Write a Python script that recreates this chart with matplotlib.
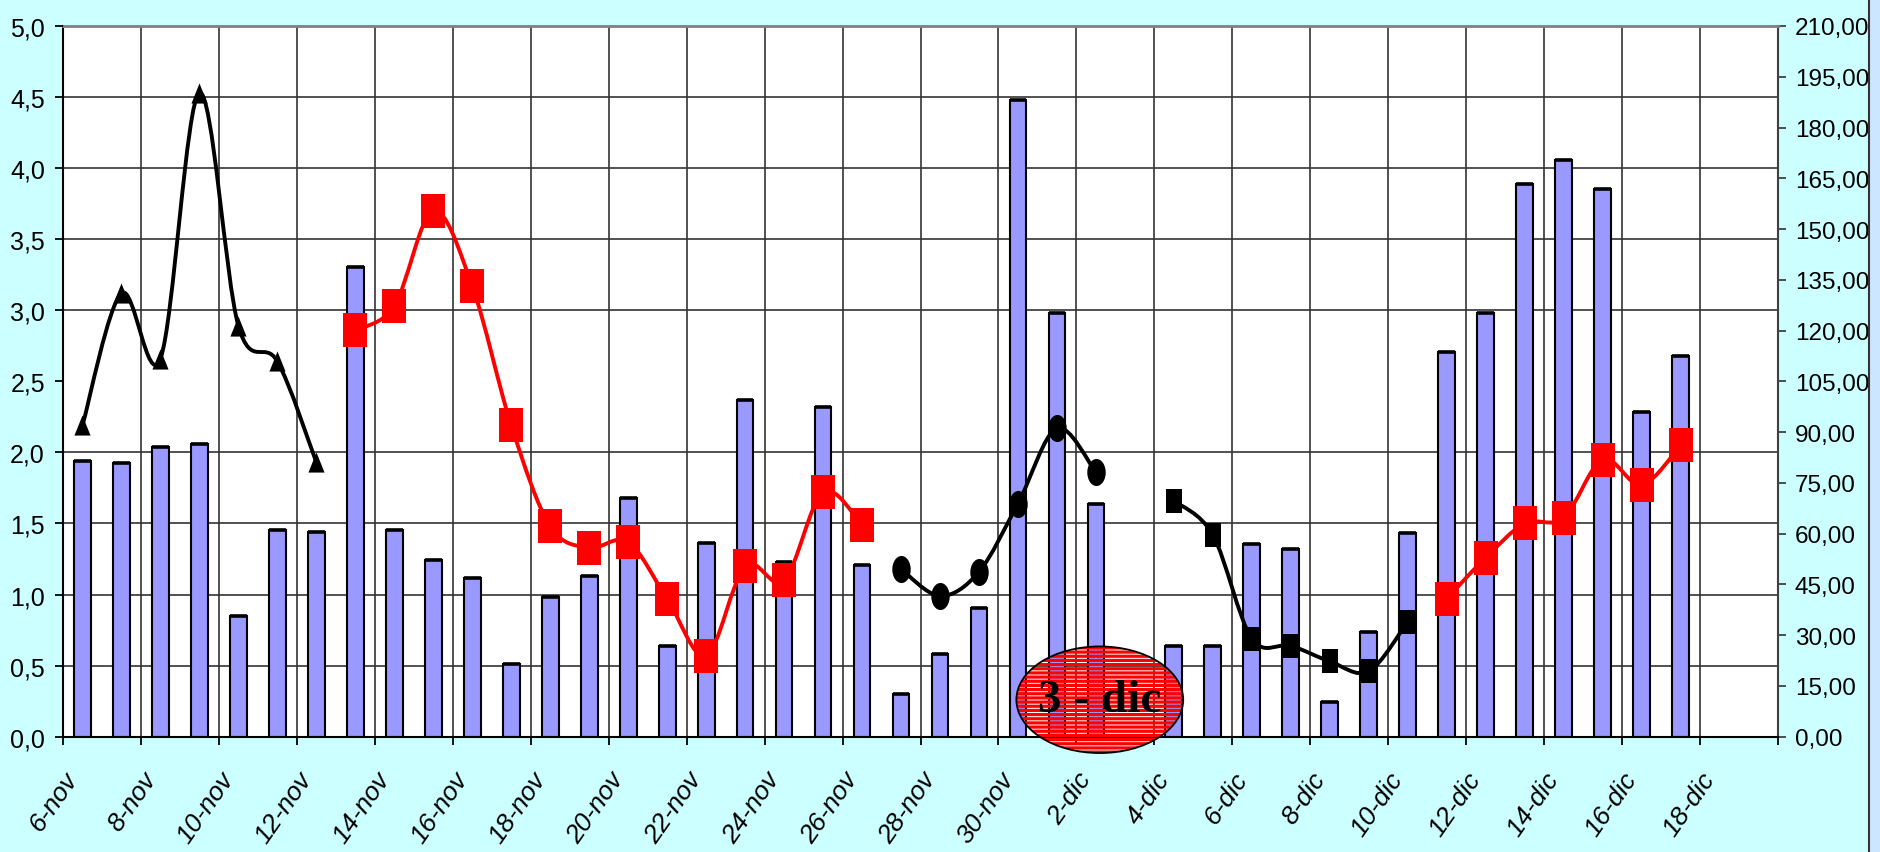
import numpy as np
import matplotlib
matplotlib.use('Agg')
import matplotlib.pyplot as plt
import matplotlib.transforms as mtransforms
from matplotlib.path import Path
from matplotlib.patches import PathPatch, Ellipse, Rectangle
from matplotlib.ticker import FuncFormatter

plt.rcParams['font.family'] = ['Liberation Sans', 'DejaVu Sans']

# day index 0 = 6-nov
tick_labels = ['6-nov', '8-nov', '10-nov', '12-nov', '14-nov', '16-nov', '18-nov',
               '20-nov', '22-nov', '24-nov', '26-nov', '28-nov', '30-nov', '2-dic',
               '4-dic', '6-dic', '8-dic', '10-dic', '12-dic', '14-dic', '16-dic',
               '18-dic', '']

# bars, right axis (one per day, 6-nov .. 17-dic; nothing on 3-dic)
bar_values = [81.6, 81.0, 85.7, 86.5, 35.7, 61.0, 60.4, 138.8, 61.0, 52.3,
              46.8, 21.5, 41.2, 47.6, 70.6, 26.9, 57.1, 99.6, 51.5, 97.3,
              50.7, 12.7, 24.4, 37.9, 188.2, 125.2, 68.9, np.nan, 26.8, 26.8,
              57.0, 55.4, 10.2, 31.0, 60.1, 113.6, 125.2, 163.3, 170.4, 161.7,
              95.8, 112.6]

# lines, left axis
tri_days = [0, 1, 2, 3, 4, 5, 6]
tri_vals = [2.19, 3.12, 2.66, 4.53, 2.89, 2.64, 1.93]
red1_days = list(range(7, 21))
red1_vals = [2.86, 3.03, 3.70, 3.17, 2.19, 1.48, 1.33, 1.37, 0.97, 0.57,
             1.20, 1.10, 1.72, 1.49]
circ_days = [21, 22, 23, 24, 25, 26]
circ_vals = [1.18, 0.99, 1.16, 1.64, 2.17, 1.86]
sq_days = [28, 29, 30, 31, 32, 33, 34]
sq_vals = [1.66, 1.42, 0.69, 0.64, 0.53, 0.46, 0.81]
red2_days = [35, 36, 37, 38, 39, 40, 41]
red2_vals = [0.97, 1.26, 1.50, 1.54, 1.95, 1.77, 2.05]

BG = '#ccffff'
BAR = '#9999ff'
BAR_W = 0.43


def smooth_path(xs, ys):
    # excel-like smoothed line: cubic bezier through every point
    pts = np.column_stack([xs, ys]).astype(float)
    n = len(pts)
    verts = [pts[0]]
    codes = [Path.MOVETO]
    for i in range(n - 1):
        p0 = pts[max(i - 1, 0)]
        p1 = pts[i]
        p2 = pts[i + 1]
        p3 = pts[min(i + 2, n - 1)]
        verts += [p1 + (p2 - p0) / 6.0, p2 - (p3 - p1) / 6.0, p2]
        codes += [Path.CURVE4] * 3
    return Path(verts, codes)


def tall(path, sx):
    return Path(path.vertices * [sx, 1.0], path.codes)


box = Path([(-0.5, -0.5), (0.5, -0.5), (0.5, 0.5), (-0.5, 0.5), (-0.5, -0.5)],
           [Path.MOVETO, Path.LINETO, Path.LINETO, Path.LINETO, Path.CLOSEPOLY])
m_square = tall(box, 0.68)
m_circle = tall(Path.unit_circle(), 0.68)
m_tri = Path([(-0.4, -0.5), (0.4, -0.5), (0.0, 0.5), (-0.4, -0.5)],
             [Path.MOVETO, Path.LINETO, Path.LINETO, Path.CLOSEPOLY])

fig = plt.figure(figsize=(18.81, 8.53), dpi=100, facecolor=BG)
ax = fig.add_axes([63 / 1881, 1 - 737.7 / 853, (1778 - 63) / 1881, (737.7 - 27) / 853])
ax.set_facecolor('white')
ax2 = ax.twinx()

# bars on the right axis
bar_x = np.arange(len(bar_values)) + 0.5
ax.bar(bar_x, bar_values, width=BAR_W, color=BAR, edgecolor='black', linewidth=1.5, zorder=2)
ax.hlines(bar_values, bar_x - BAR_W / 2, bar_x + BAR_W / 2, color='black',
          linewidth=2.6, zorder=2.5)
ax.set_xlim(0, 44)
ax.set_ylim(0, 210)
ax.yaxis.tick_right()
ax.set_yticks(np.arange(0, 211, 15))
ax.yaxis.set_major_formatter(FuncFormatter(lambda v, p: f'{v:.2f}'.replace('.', ',')))
ax.set_yticks(np.arange(0, 211, 21), minor=True)
ax.tick_params(axis='y', which='minor', length=0)
ax.tick_params(axis='y', which='major', direction='out', length=6, width=1.3,
               color='#404040', labelsize=17.5, pad=6)
ax.set_xticks(np.arange(0, 45, 2))
ax.set_xticklabels(tick_labels, rotation=55, ha='right', va='center',
                   rotation_mode='anchor', style='italic')
ax.tick_params(axis='x', direction='out', length=6, width=1.3, labelsize=19, pad=21)
ax.set_axisbelow(True)
ax.grid(axis='x', which='major', color='#333333', linewidth=1.2)
ax.grid(axis='y', which='minor', color='#333333', linewidth=1.2)
ax.grid(axis='y', which='major', visible=False)
for s in ['left', 'bottom']:
    ax.spines[s].set_color('black')
    ax.spines[s].set_linewidth(1.5)
ax.spines['top'].set_color('#808080')
ax.spines['top'].set_linewidth(2)
ax.spines['right'].set_color('#404040')
ax.spines['right'].set_linewidth(1.5)

shift = mtransforms.ScaledTranslation(10 / 100, 0, fig.dpi_scale_trans)
for lab in ax.get_xticklabels():
    lab.set_transform(lab.get_transform() + shift)

# lines on the left axis
ax2.set_ylim(0, 5)
ax2.yaxis.tick_left()
ax2.set_yticks(np.arange(0, 5.01, 0.5))
ax2.yaxis.set_major_formatter(FuncFormatter(lambda v, p: f'{v:.1f}'.replace('.', ',')))
ax2.tick_params(axis='y', direction='out', length=6, width=1.3, color='black',
                labelsize=18, pad=7)
for s in ax2.spines.values():
    s.set_visible(False)

series = [
    (tri_days, tri_vals, 'black', m_tri, 14.5),
    (red1_days, red1_vals, '#ff0000', m_square, 25),
    (circ_days, circ_vals, 'black', m_circle, 19.5),
    (sq_days, sq_vals, 'black', m_square, 17.5),
    (red2_days, red2_vals, '#ff0000', m_square, 25),
]
for days, vals, col, mk, ms in series:
    xs = np.array(days) + 0.5
    ax2.add_patch(PathPatch(smooth_path(xs, vals), fill=False, edgecolor=col,
                            linewidth=2.8, zorder=3, capstyle='round', joinstyle='round'))
    ax2.plot(xs, vals, linestyle='none', marker=mk, markersize=ms,
             color=col, markeredgewidth=0, zorder=4)
ax2.set_xlim(0, 44)

# "3 - dic" badge
plt.rcParams['hatch.linewidth'] = 2.3
badge = Ellipse((26.6, 0.26), 4.28, 0.75, facecolor='none', edgecolor='#ff0000',
                linewidth=0, hatch='----', zorder=8, clip_on=False)
ax2.add_patch(badge)
ax2.add_patch(Ellipse((26.6, 0.26), 4.28, 0.75, facecolor='none', edgecolor='black',
                      linewidth=1.3, zorder=9, clip_on=False))
ax2.text(26.6, 0.26, '3 - dic', ha='center', va='center', fontsize=34,
         fontweight='bold', family=['Liberation Serif', 'DejaVu Serif'],
         zorder=10, clip_on=False)

# right-hand frame strip
fig.patches.append(Rectangle((1869 / 1881, 0), 1, 1, transform=fig.transFigure,
                             facecolor='#cce6ff', edgecolor='none', zorder=0))
fig.lines.append(plt.Line2D([1869 / 1881] * 2, [0, 1], transform=fig.transFigure,
                            color='#333333', linewidth=1.5))

fig.savefig('out.png', dpi=100, facecolor=BG)
